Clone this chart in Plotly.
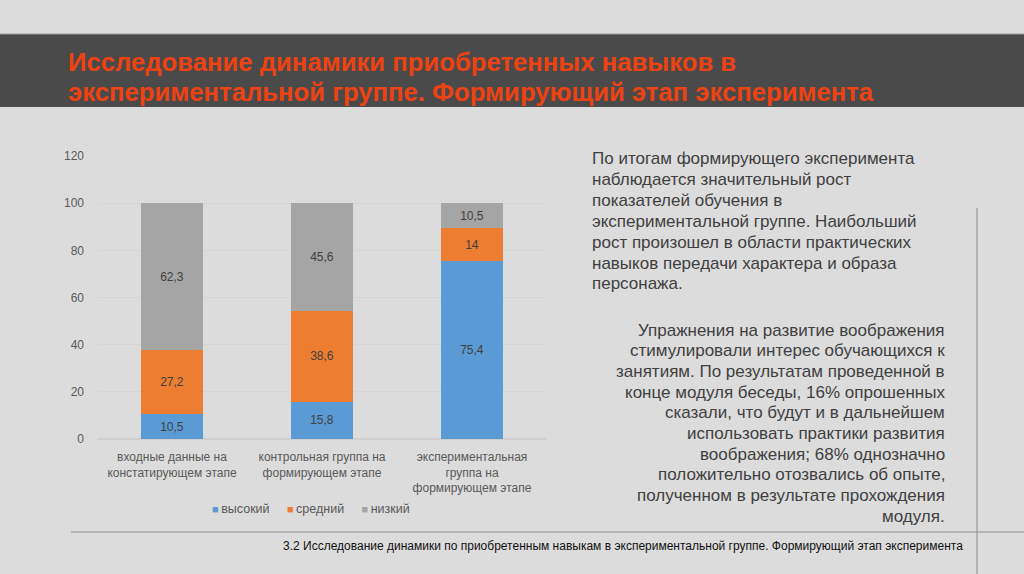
import plotly.graph_objects as go

# ---- data ----
categories = [
    "входные данные на<br>констатирующем этапе",
    "контрольная группа на<br>формирующем этапе",
    "экспериментальная<br>группа на<br>формирующем этапе",
]
series_names = ["высокий", "средний", "низкий"]
high = [10.5, 15.8, 75.4]
medium = [27.2, 38.6, 14.0]
low = [62.3, 45.6, 10.5]
y_ticks = [0, 20, 40, 60, 80, 100, 120]

title_lines = [
    "Исследование динамики приобретенных навыков в",
    "экспериментальной группе. Формирующий этап эксперимента",
]
para1 = [
    "По итогам формирующего эксперимента",
    "наблюдается значительный рост",
    "показателей обучения в",
    "экспериментальной группе. Наибольший",
    "рост произошел в области практических",
    "навыков передачи характера и образа",
    "персонажа.",
]
para2 = [
    "Упражнения на развитие воображения",
    "стимулировали интерес обучающихся к",
    "занятиям. По результатам проведенной в",
    "конце модуля беседы, 16% опрошенных",
    "сказали, что будут и в дальнейшем",
    "использовать практики развития",
    "воображения; 68% однозначно",
    "положительно отозвались об опыте,",
    "полученном в результате прохождения",
    "модуля.",
]
footer = "3.2 Исследование динамики по приобретенным навыкам в экспериментальной группе. Формирующий этап эксперимента"

colors = ["#5b9bd5", "#ed7d31", "#a5a5a5"]
W, H = 1024, 574
BG = "#dcdcdc"
FONT = "Liberation Sans, Arial, sans-serif"

# the photographed page maps paper y to pixels as 7 + 560*(1-p)
Y_OFF, Y_SPAN = 7.0, 560.0


def fmt(v):
    return ("%g" % v).replace(".", ",")


def px_x(x):
    return x / W


def px_y(y):
    return 1 - (y - Y_OFF) / Y_SPAN


fig = go.Figure()
for name, vals, col in zip(series_names, [high, medium, low], colors):
    fig.add_trace(go.Bar(
        x=categories, y=vals, name=name,
        marker=dict(color=col, line=dict(width=0)),
        text=[fmt(v) for v in vals], textposition="inside",
        insidetextanchor="middle",
        textfont=dict(family=FONT, size=12, color="#404040"),
        hoverinfo="skip", showlegend=False,
    ))

shapes = [
    dict(type="rect", xref="paper", yref="paper", x0=0, x1=1,
         y0=px_y(107), y1=px_y(34), fillcolor="#4a4a4a", line=dict(width=0), layer="below"),
    dict(type="line", xref="paper", yref="paper", x0=0, x1=1,
         y0=px_y(34), y1=px_y(34), line=dict(color="#9a9a9a", width=1)),
    dict(type="line", xref="paper", yref="paper", x0=px_x(71), x1=1,
         y0=px_y(532), y1=px_y(532), line=dict(color="#8c8c8c", width=1)),
    dict(type="line", xref="paper", yref="paper", x0=px_x(977), x1=px_x(977),
         y0=px_y(208), y1=px_y(580), line=dict(color="#8c8c8c", width=1)),
]

title_font = dict(family=FONT, size=25.7, color="#ee4212")
body_font = dict(family=FONT, size=17, color="#404040")

annotations = []
for i, line in enumerate(title_lines):
    annotations.append(dict(text="<b>%s</b>" % line, x=px_x(66), y=px_y(62 + 30 * i),
                            xref="paper", yref="paper", xanchor="left", yanchor="middle",
                            showarrow=False, font=title_font))
for i, line in enumerate(para1):
    annotations.append(dict(text=line, x=px_x(590), y=px_y(159 + 20.8 * i),
                            xref="paper", yref="paper", xanchor="left", yanchor="middle",
                            showarrow=False, font=body_font))
for i, line in enumerate(para2):
    annotations.append(dict(text=line, x=px_x(947), y=px_y(330 + 20.7 * i),
                            xref="paper", yref="paper", xanchor="right", yanchor="middle",
                            showarrow=False, font=body_font))
annotations.append(dict(text=footer, x=px_x(623), y=px_y(546), xref="paper", yref="paper",
                        xanchor="center", yanchor="middle", showarrow=False,
                        font=dict(family=FONT, size=12, color="#111111")))

# compact legend (Office-style): small colored square + label
legend_parts = []
for name, col in zip(series_names, colors):
    legend_parts.append('<span style="color:%s;font-size:11px">■</span>&#8201;%s' % (col, name))
annotations.append(dict(text="&nbsp;&nbsp;&nbsp;&nbsp;&nbsp;".join(legend_parts),
                        x=px_x(311), y=px_y(509), xref="paper", yref="paper",
                        xanchor="center", yanchor="middle", showarrow=False,
                        font=dict(family=FONT, size=12.5, color="#595959")))

fig.update_layout(
    width=W, height=H,
    margin=dict(l=0, r=0, t=0, b=0),
    paper_bgcolor=BG, plot_bgcolor=BG,
    barmode="stack", bargap=0.59,
    showlegend=False,
    xaxis=dict(domain=[px_x(97), px_x(547)], showgrid=False, zeroline=False,
               showline=False, ticks="", ticklabelstandoff=9,
               tickfont=dict(family=FONT, size=12, color="#595959")),
    yaxis=dict(domain=[px_y(439), px_y(156)], range=[0, 120], tickvals=y_ticks,
               showgrid=True, gridcolor="#d5d5d5", gridwidth=1, zeroline=True,
               zerolinecolor="#cfcfcf", showline=False, ticks="", ticklabelstandoff=12,
               tickfont=dict(family=FONT, size=12, color="#595959")),
    shapes=shapes,
    annotations=annotations,
    font=dict(family=FONT),
)

fig.write_html("out.html", config={"displayModeBar": False},
               post_script="document.body.style.margin='0';document.body.style.overflow='hidden';")
